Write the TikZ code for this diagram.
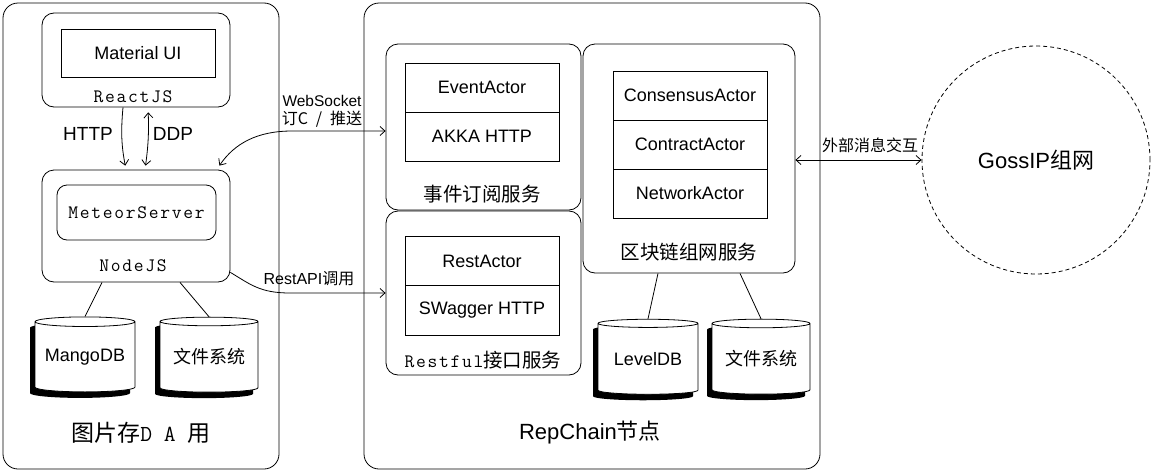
\documentclass[tikz,border=0pt]{standalone}
\usepackage{fontspec}
\setmainfont{Liberation Sans}
\newfontfamily\cjk{Noto Sans CJK SC}
\newfontfamily\monosp{Latin Modern Mono}[LetterSpace=9]
\usetikzlibrary{shapes.geometric,shadows,arrows.meta}

\newcommand{\fsz}[1]{\fontsize{#1}{#1}\selectfont}

\begin{document}
\begin{tikzpicture}[x=1pt,y=-1pt,line width=0.8pt,
  >={Straight Barb[length=5pt,width=9pt]},
  every node/.style={inner sep=0pt,font=\fsz{18}},
  group/.style={draw,rounded corners=15pt},
  part/.style={draw,rounded corners=12pt},
  cell/.style={draw,minimum width=154pt,minimum height=49pt},
  store/.style={cylinder,shape border rotate=90,aspect=0.12,draw,fill=white,
    minimum width=100pt,minimum height=75pt,
    drop shadow={shadow xshift=-5pt,shadow yshift=-6pt,fill=black,opacity=1}},
  tag/.style={font=\fsz{16}},
  mono/.style={font=\monosp\fsz{19}},
  cjklbl/.style={font=\cjk\fsz{19.5}},]

  \useasboundingbox (0,0) rectangle (1152,474);

  % front end
  \node[group,minimum width=276pt,minimum height=466pt] (front) at (141,236) {};
  \node[part,minimum width=188pt,minimum height=94pt] (react) at (136,60) {};
  \node[draw,minimum width=154pt,minimum height=48pt] (mui) at (138,53) {Material UI};
  \node[mono] (reactlbl) at (133,97) {ReactJS};
  \node[part,minimum width=188pt,minimum height=112pt] (nodejs) at (136,226) {};
  \node[part,rounded corners=10pt,minimum width=159pt,minimum height=55pt,mono] (meteor) at (136.5,212.5) {MeteorServer};
  \node[mono] (nodelbl) at (133,266) {NodeJS};

  % http / ddp
  \draw[->,shorten >=4pt] ([xshift=-13pt]react.south) to[bend right=8] ([xshift=-10pt]nodejs.north);
  \draw[<->,shorten >=5pt,shorten <=4pt] ([xshift=9pt]nodejs.north) to[bend right=5] ([xshift=12pt]react.south);
  \node[font=\fsz{19}] (httplbl) at (88,134) {HTTP};
  \node[font=\fsz{19}] (ddplbl) at (173,134) {DDP};

  % storage
  \node[store] (mango) at (85,357) {MangoDB};
  \node[store,minimum width=98pt] (files) at (209,357) {\cjk 文件系统};
  \draw ([xshift=-34pt]nodejs.south) -- (mango.north);
  \draw ([xshift=44pt]nodejs.south) -- (files.north);

  \node[font=\fsz{23}] (frontlbl) at (141,433) {{\cjk 图片存}{\ttfamily D A }{\cjk 用}};

  % repchain node
  \node[group,minimum width=456pt,minimum height=466pt] (repchain) at (592,236) {};

  \node[part,minimum width=195pt,minimum height=166pt] (event) at (483.5,127) {};
  \node[cell] (eactor) at (482,87.5) {EventActor};
  \node[cell] (akka) at (482,136.5) {AKKA HTTP};
  \node[cjklbl] (eventlbl) at (482,194) {事件订阅服务};

  \node[part,minimum width=195pt,minimum height=164pt] (rest) at (483.5,293) {};
  \node[cell] (ractor) at (482,261) {RestActor};
  \node[cell,minimum height=50pt] (swagger) at (482,310) {SWagger HTTP};
  \node (restlbl) at (483,360) {{\monosp\fsz{19}Restful}{\cjk\fsz{19.5}接口服务}};

  \node[part,minimum width=212pt,minimum height=229pt] (chain) at (689,158.5) {};
  \node[cell] (consensus) at (690,95.5) {ConsensusActor};
  \node[cell] (contract) at (690,144.5) {ContractActor};
  \node[cell] (network) at (690,193.5) {NetworkActor};
  \node[cjklbl] (chainlbl) at (689,252) {区块链组网服务};

  \node[store] (leveldb) at (648,359) {LevelDB};
  \node[store,minimum width=98pt] (chainfiles) at (761,359) {\cjk 文件系统};
  \draw ([xshift=-31pt]chain.south) -- (leveldb.north);
  \draw ([xshift=51pt]chain.south) -- (chainfiles.north);

  \node[font=\fsz{22}] (chainname) at (590,433) {RepChain{\cjk 节点}};

  % gossip network
  \node[draw,circle,dash pattern=on 4pt off 3pt,minimum size=228pt,font=\fsz{22}] (gossip) at (1036,160) {GossIP{\cjk 组网}};
  \draw[<->] (chain.east |- gossip.west) -- (gossip.west);
  \node[tag,font=\cjk\fsz{16}] (msglbl) at (870,145) {外部消息交互};

  % links between the two sides
  \coordinate (wsbend) at (292,131);
  \draw[<->] ([xshift=-11pt,yshift=4pt]nodejs.north east) .. controls +(15,-22) and +(-35,0) .. (wsbend) -- (wsbend -| event.west);
  \node[tag,font=\fsz{15.5}] (wslbl) at (322,101) {WebSocket};
  \node[tag,font=\cjk\fsz{16}] (wslbl2) at (322,119) {订C\hspace{8pt}/\hspace{8pt}推送};

  \coordinate (restbend) at (290,293);
  \draw[->] ([yshift=10pt]nodejs.south east) .. controls +(20,12) and +(-30,0) .. (restbend) -- (rest.west);
  \node[tag] (restapilbl) at (309,279) {RestAPI{\cjk 调用}};

\end{tikzpicture}
\end{document}
